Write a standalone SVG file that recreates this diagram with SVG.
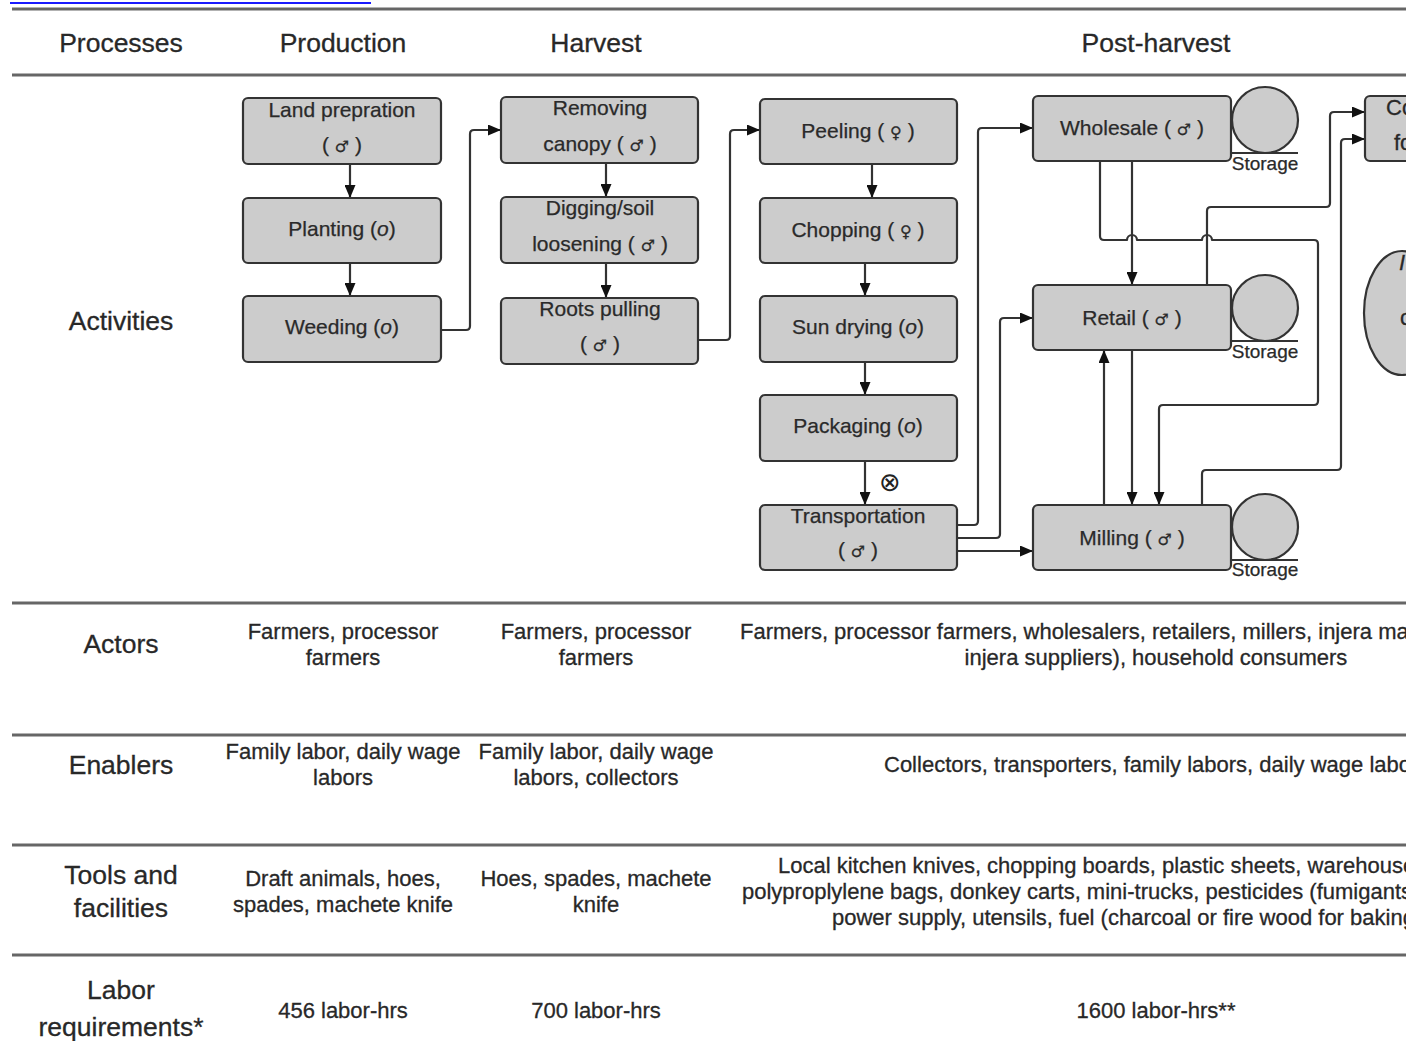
<svg xmlns="http://www.w3.org/2000/svg" width="1406" height="1041" viewBox="0 0 1406 1041">
<defs>
<marker id="arr" viewBox="0 0 13 11" refX="13" refY="5.5" markerWidth="13" markerHeight="11" markerUnits="userSpaceOnUse" orient="auto">
<path d="M0,0 L13,5.5 L0,11 z" fill="#111"/>
</marker>
<style>
.rule{stroke:#666;stroke-width:3;fill:none}
.hd{font-family:"Liberation Sans",Arial,sans-serif;font-size:26.5px;fill:#282828;stroke:#282828;stroke-width:0.3;text-anchor:middle}
.ct{font-family:"Liberation Sans",Arial,sans-serif;font-size:22px;fill:#282828;stroke:#282828;stroke-width:0.3;text-anchor:middle}
.cs{font-family:"Liberation Sans",Arial,sans-serif;font-size:22px;fill:#282828;stroke:#282828;stroke-width:0.3;text-anchor:start}
.box{fill:#cccccc;stroke:#333;stroke-width:2.2}
.bt{font-family:"Liberation Sans",Arial,sans-serif;font-size:21px;fill:#2a2a2a;stroke:#2a2a2a;stroke-width:0.25;text-anchor:middle}
.sym{font-family:"DejaVu Sans",sans-serif;font-size:16px}
.st{font-family:"Liberation Sans",Arial,sans-serif;font-size:19px;fill:#2a2a2a;stroke:#2a2a2a;stroke-width:0.25;text-anchor:middle}
.circ{fill:#cccccc;stroke:#333;stroke-width:2.2}
.con{fill:none;stroke:#333;stroke-width:2.2;stroke-linejoin:round}
</style>
</defs>
<rect width="1406" height="1041" fill="#fff"/>
<line x1="10" y1="3" x2="371" y2="3" stroke="#1a1aff" stroke-width="2"/>
<g id="table">
<line class="rule" x1="12" y1="9" x2="1406" y2="9"/>
<line class="rule" x1="12" y1="75" x2="1406" y2="75"/>
<line class="rule" x1="12" y1="603" x2="1406" y2="603"/>
<line class="rule" x1="12" y1="735" x2="1406" y2="735"/>
<line class="rule" x1="12" y1="845" x2="1406" y2="845"/>
<line class="rule" x1="12" y1="955" x2="1406" y2="955"/>
<text class="hd" x="121" y="52">Processes</text>
<text class="hd" x="343" y="52">Production</text>
<text class="hd" x="596" y="52">Harvest</text>
<text class="hd" x="1156" y="52">Post-harvest</text>
<text class="hd" x="121" y="330">Activities</text>
<text class="hd" x="121" y="653">Actors</text>
<text class="hd" x="121" y="774">Enablers</text>
<text class="hd" x="121" y="884">Tools and</text>
<text class="hd" x="121" y="917">facilities</text>
<text class="hd" x="121" y="999">Labor</text>
<text class="hd" x="121" y="1036">requirements*</text>
<text class="ct" x="343" y="639">Farmers, processor</text>
<text class="ct" x="343" y="665">farmers</text>
<text class="ct" x="596" y="639">Farmers, processor</text>
<text class="ct" x="596" y="665">farmers</text>
<text class="cs" x="740" y="639">Farmers, processor farmers, wholesalers, retailers, millers, injera ma</text>
<text class="ct" x="1156" y="665">injera suppliers), household consumers</text>
<text class="ct" x="343" y="759">Family labor, daily wage</text>
<text class="ct" x="343" y="785">labors</text>
<text class="ct" x="596" y="759">Family labor, daily wage</text>
<text class="ct" x="596" y="785">labors, collectors</text>
<text class="cs" x="884" y="772">Collectors, transporters, family labors, daily wage labo</text>
<text class="ct" x="343" y="886">Draft animals, hoes,</text>
<text class="ct" x="343" y="912">spades, machete knife</text>
<text class="ct" x="596" y="886">Hoes, spades, machete</text>
<text class="ct" x="596" y="912">knife</text>
<text class="cs" x="778" y="873">Local kitchen knives, chopping boards, plastic sheets, warehouse</text>
<text class="cs" x="742" y="899">polyproplylene bags, donkey carts, mini-trucks, pesticides (fumigants</text>
<text class="cs" x="832" y="925">power supply, utensils, fuel (charcoal or fire wood for baking</text>
<text class="ct" x="343" y="1018">456 labor-hrs</text>
<text class="ct" x="596" y="1018">700 labor-hrs</text>
<text class="ct" x="1156" y="1018">1600 labor-hrs**</text>
</g>
<g id="connectors">
<line class="con" x1="350" y1="164" x2="350" y2="198" marker-end="url(#arr)"/>
<line class="con" x1="350" y1="263" x2="350" y2="296" marker-end="url(#arr)"/>
<path class="con" d="M441,330 H466 Q470,330 470,326 V134 Q470,130 474,130 H501" marker-end="url(#arr)"/>
<line class="con" x1="606" y1="163" x2="606" y2="197" marker-end="url(#arr)"/>
<line class="con" x1="606" y1="263" x2="606" y2="298" marker-end="url(#arr)"/>
<path class="con" d="M698,340 H726 Q730,340 730,336 V134 Q730,130 734,130 H760" marker-end="url(#arr)"/>
<line class="con" x1="872" y1="164" x2="872" y2="198" marker-end="url(#arr)"/>
<line class="con" x1="865" y1="263" x2="865" y2="296" marker-end="url(#arr)"/>
<line class="con" x1="865" y1="362" x2="865" y2="395" marker-end="url(#arr)"/>
<line class="con" x1="865" y1="461" x2="865" y2="505" marker-end="url(#arr)"/>
<path class="con" d="M958,525 H974 Q978,525 978,521 V132 Q978,128 982,128 H1033" marker-end="url(#arr)"/>
<path class="con" d="M958,538 H996 Q1000,538 1000,534 V322 Q1000,318 1004,318 H1033" marker-end="url(#arr)"/>
<path class="con" d="M958,551 H1033" marker-end="url(#arr)"/>
<line class="con" x1="1132" y1="161" x2="1132" y2="285" marker-end="url(#arr)"/>
<path class="con" d="M1100,161 V236 Q1100,240 1104,240 H1127 A5,5 0 0 1 1137,240 H1202 A5,5 0 0 1 1212,240 H1314 Q1318,240 1318,244 V401 Q1318,405 1314,405 H1163 Q1159,405 1159,409 V505" marker-end="url(#arr)"/>
<path class="con" d="M1207,285 V211 Q1207,207 1211,207 H1326 Q1330,207 1330,203 V116 Q1330,112 1334,112 H1365" marker-end="url(#arr)"/>
<line class="con" x1="1132" y1="350" x2="1132" y2="505" marker-end="url(#arr)"/>
<line class="con" x1="1104" y1="505" x2="1104" y2="350" marker-end="url(#arr)"/>
<path class="con" d="M1202,505 V474 Q1202,470 1206,470 H1337 Q1341,470 1341,466 V143 Q1341,139 1345,139 H1365" marker-end="url(#arr)"/>
<text x="890" y="491" font-family="DejaVu Sans, sans-serif" font-size="26" fill="#222" text-anchor="middle">⊗</text>
</g>
<g id="n-land"><rect class="box" x="243" y="98" width="198" height="66" rx="5"/><text class="bt" x="342" y="117">Land prepration</text><text class="bt" x="342" y="152">( <tspan class="sym">♂</tspan> )</text></g>
<g id="n-planting"><rect class="box" x="243" y="198" width="198" height="65" rx="5"/><text class="bt" x="342" y="236">Planting (<tspan font-style="italic">o</tspan>)</text></g>
<g id="n-weeding"><rect class="box" x="243" y="296" width="198" height="66" rx="5"/><text class="bt" x="342" y="334">Weeding (<tspan font-style="italic">o</tspan>)</text></g>
<g id="n-removing"><rect class="box" x="501" y="97" width="197" height="66" rx="5"/><text class="bt" x="600" y="115">Removing</text><text class="bt" x="600" y="151">canopy ( <tspan class="sym">♂</tspan> )</text></g>
<g id="n-digging"><rect class="box" x="501" y="197" width="197" height="66" rx="5"/><text class="bt" x="600" y="215">Digging/soil</text><text class="bt" x="600" y="251">loosening ( <tspan class="sym">♂</tspan> )</text></g>
<g id="n-roots"><rect class="box" x="501" y="298" width="197" height="66" rx="5"/><text class="bt" x="600" y="316">Roots pulling</text><text class="bt" x="600" y="351">( <tspan class="sym">♂</tspan> )</text></g>
<g id="n-peeling"><rect class="box" x="760" y="99" width="197" height="65" rx="5"/><text class="bt" x="858" y="138">Peeling ( <tspan class="sym">♀</tspan> )</text></g>
<g id="n-chopping"><rect class="box" x="760" y="198" width="197" height="65" rx="5"/><text class="bt" x="858" y="237">Chopping ( <tspan class="sym">♀</tspan> )</text></g>
<g id="n-sundrying"><rect class="box" x="760" y="296" width="197" height="66" rx="5"/><text class="bt" x="858" y="334">Sun drying (<tspan font-style="italic">o</tspan>)</text></g>
<g id="n-packaging"><rect class="box" x="760" y="395" width="197" height="66" rx="5"/><text class="bt" x="858" y="433">Packaging (<tspan font-style="italic">o</tspan>)</text></g>
<g id="n-transport"><rect class="box" x="760" y="505" width="197" height="65" rx="5"/><text class="bt" x="858" y="523">Transportation</text><text class="bt" x="858" y="557">( <tspan class="sym">♂</tspan> )</text></g>
<g id="n-wholesale"><rect class="box" x="1033" y="96" width="198" height="65" rx="5"/><text class="bt" x="1132" y="135">Wholesale ( <tspan class="sym">♂</tspan> )</text>
<circle class="circ" cx="1265" cy="120" r="33"/><line x1="1231" y1="153" x2="1298" y2="153" stroke="#333" stroke-width="2"/><text class="st" x="1265" y="170">Storage</text></g>
<g id="n-retail"><rect class="box" x="1033" y="285" width="198" height="65" rx="5"/><text class="bt" x="1132" y="325">Retail ( <tspan class="sym">♂</tspan> )</text>
<circle class="circ" cx="1265" cy="308" r="33"/><line x1="1231" y1="341" x2="1298" y2="341" stroke="#333" stroke-width="2"/><text class="st" x="1265" y="358">Storage</text></g>
<g id="n-milling"><rect class="box" x="1033" y="505" width="198" height="65" rx="5"/><text class="bt" x="1132" y="545">Milling ( <tspan class="sym">♂</tspan> )</text>
<circle class="circ" cx="1265" cy="527" r="33"/><line x1="1231" y1="560" x2="1298" y2="560" stroke="#333" stroke-width="2"/><text class="st" x="1265" y="576">Storage</text></g>
<g id="n-consumer"><rect class="box" x="1365" y="96" width="80" height="65" rx="5"/><text class="cs" x="1386" y="115">Co</text><text class="cs" x="1394" y="150">fo</text></g>
<g id="n-ellipse"><ellipse class="circ" cx="1402" cy="313" rx="38" ry="62"/><text class="cs" x="1399" y="270" font-style="italic">I</text><text class="cs" x="1400" y="325">c</text></g>
</svg>
